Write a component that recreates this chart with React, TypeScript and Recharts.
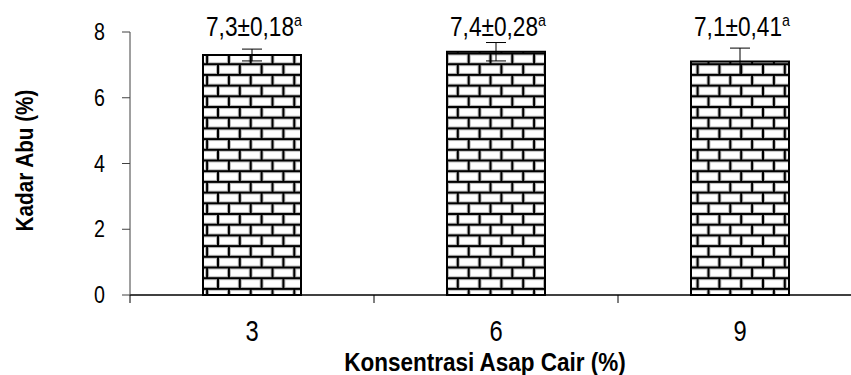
import React from 'react';
import { BarChart, Bar, XAxis, YAxis, ErrorBar, LabelList, Label } from 'recharts';

const categories = ['3', '6', '9'];
const means = [7.3, 7.4, 7.1];
const sds = [0.18, 0.28, 0.41];
const meanText = ['7,3', '7,4', '7,1'];
const sdText = ['0,18', '0,28', '0,41'];
const letters = ['a', 'a', 'a'];
const yTicks = [0, 2, 4, 6, 8];

const data = categories.map((c, i) => ({
  name: c,
  value: means[i],
  sd: sds[i],
  text: `${meanText[i]}±${sdText[i]}`,
  letter: letters[i],
}));

const FONT = '"Liberation Sans", Arial, sans-serif';
const LABEL_Y = 36;

// Excel-style category axis: tick marks sit on the category boundaries
const XTick = (props: any) => {
  const { x, y, payload, index } = props;
  const off = payload.offset || 0;
  return (
    <g>
      <line x1={x - off} x2={x - off} y1={y - 8} y2={y} stroke="#000" strokeWidth={1} />
      {index === categories.length - 1 && (
        <line x1={x + off} x2={x + off} y1={y - 8} y2={y} stroke="#000" strokeWidth={1} />
      )}
      <g transform={`translate(${x},${y + 38}) scale(0.82,1)`}>
        <text x={0} y={0} textAnchor="middle" fontFamily={FONT} fontSize={29} fill="#000">
          {payload.value}
        </text>
      </g>
    </g>
  );
};

const YTick = (props: any) => {
  const { x, y, payload } = props;
  return (
    <g transform={`translate(${x},${y + 8}) scale(0.82,1)`}>
      <text x={0} y={0} textAnchor="end" fontFamily={FONT} fontSize={24} fill="#000">
        {payload.value}
      </text>
    </g>
  );
};

const TopLabel = (props: any) => {
  const { x, width, index } = props;
  const d = data[index];
  return (
    <g transform={`translate(${x + width / 2 + 2},${LABEL_Y}) scale(0.84,1)`}>
      <text x={0} y={0} textAnchor="middle" fontFamily={FONT} fontSize={27} fill="#000">
        {d.text}
        <tspan dy={-10} fontSize={17}>{d.letter}</tspan>
      </text>
    </g>
  );
};

export default function App() {
  return (
    <div style={{ position: 'absolute', left: 0, top: 0, width: 851, height: 375, overflow: 'hidden', background: '#fff' }}>
      <BarChart
        width={870}
        height={375}
        data={data}
        margin={{ top: 32, right: 8, bottom: 0, left: 0 }}
        barSize={98}
      >
        <defs>
          <pattern id="brick" patternUnits="userSpaceOnUse" width={21.8} height={21.4}>
            <rect x={0} y={0} width={21.8} height={21.4} fill="#fff" />
            <g stroke="#b8b8b8" strokeWidth={4}>
              <line x1={0} x2={21.8} y1={0} y2={0} />
              <line x1={0} x2={21.8} y1={10.7} y2={10.7} />
              <line x1={0} x2={21.8} y1={21.4} y2={21.4} />
              <line x1={0} x2={0} y1={0} y2={10.7} />
              <line x1={21.8} x2={21.8} y1={0} y2={10.7} />
              <line x1={10.9} x2={10.9} y1={10.7} y2={21.4} />
            </g>
            <g stroke="#000" strokeWidth={2}>
              <line x1={0} x2={21.8} y1={0} y2={0} />
              <line x1={0} x2={21.8} y1={10.7} y2={10.7} />
              <line x1={0} x2={21.8} y1={21.4} y2={21.4} />
              <line x1={0} x2={0} y1={0} y2={10.7} />
              <line x1={21.8} x2={21.8} y1={0} y2={10.7} />
              <line x1={10.9} x2={10.9} y1={10.7} y2={21.4} />
            </g>
          </pattern>
        </defs>
        <XAxis
          dataKey="name"
          height={80}
          axisLine={{ stroke: '#000', strokeWidth: 1.5 }}
          tickLine={false}
          tickSize={8}
          tickMargin={0}
          tick={<XTick />}
          interval={0}
        >
          <Label
            content={(p: any) => {
              const vb = p.viewBox;
              return (
                <g transform={`translate(${vb.x + vb.width / 2 - 11},${vb.y + 76}) scale(0.9,1)`}>
                  <text x={0} y={0} textAnchor="middle" fontFamily={FONT} fontSize={25} fontWeight="bold" fill="#000">
                    Konsentrasi Asap Cair (%)
                  </text>
                </g>
              );
            }}
          />
        </XAxis>
        <YAxis
          domain={[0, 8]}
          ticks={yTicks}
          width={130}
          axisLine={{ stroke: '#404040', strokeWidth: 1 }}
          tickLine={{ stroke: '#404040', strokeWidth: 1 }}
          tickSize={8}
          tickMargin={17}
          tick={<YTick />}
          interval={0}
        >
          <Label
            content={(p: any) => {
              const vb = p.viewBox;
              return (
                <g transform={`translate(${33},${vb.y + vb.height / 2 - 3}) rotate(-90) scale(0.9,1)`}>
                  <text x={0} y={0} textAnchor="middle" fontFamily={FONT} fontSize={23} fontWeight="bold" fill="#000">
                    Kadar Abu (%)
                  </text>
                </g>
              );
            }}
          />
        </YAxis>
        <Bar dataKey="value" fill="url(#brick)" stroke="#000" strokeWidth={2} isAnimationActive={false}>
          <ErrorBar dataKey="sd" width={10} stroke="#000" strokeWidth={1} direction="y" />
          <LabelList dataKey="value" content={<TopLabel />} />
        </Bar>
      </BarChart>
    </div>
  );
}
